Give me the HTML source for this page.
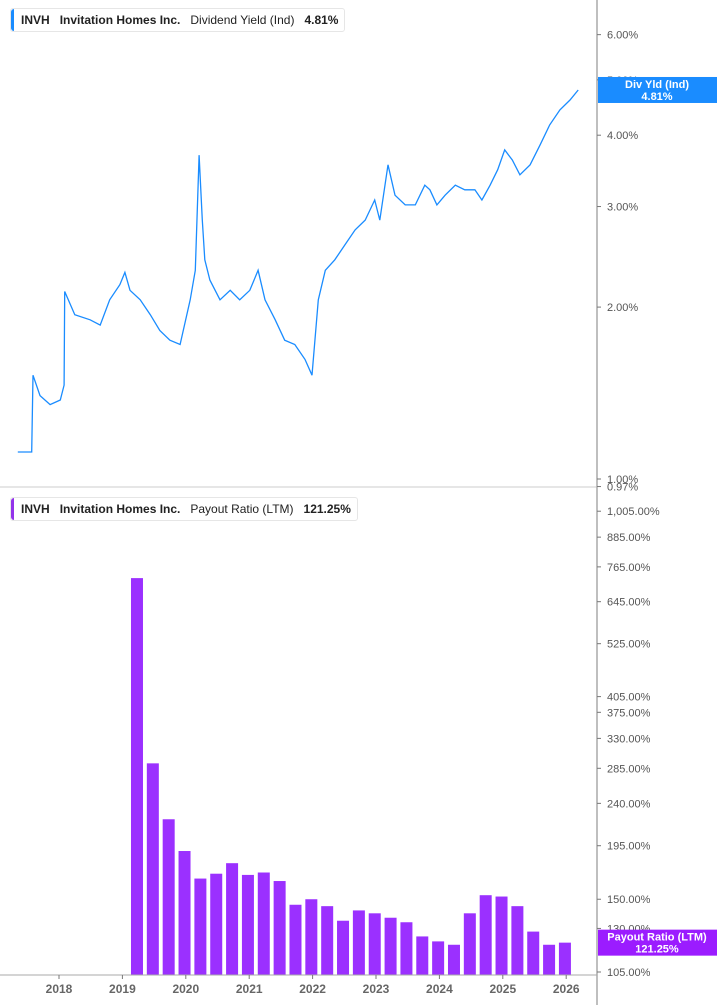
<!DOCTYPE html>
<html><head><meta charset="utf-8"><style>
body{margin:0;width:717px;height:1005px;background:#fff;font-family:"Liberation Sans",sans-serif;overflow:hidden;position:relative}
.leg{position:absolute;left:10px;height:22px;border:1px solid #e6e6e6;border-radius:3px;background:#fff;font-size:12px;color:#222;line-height:22px;padding:0 6px 0 10px;white-space:nowrap}
.leg b{font-weight:bold}
.leg .bar{position:absolute;left:0;top:0;bottom:0;width:3px;border-radius:3px 0 0 3px}
</style></head><body>
<svg id="chart" width="717" height="1005" style="position:absolute;left:0;top:0" font-family="Liberation Sans, sans-serif">
<line x1="0" y1="487" x2="597" y2="487" stroke="#ccc"/>
<line x1="597" y1="0" x2="597" y2="1005" stroke="#aaa" stroke-width="1.5"/>
<g id="gtop"></g><g id="gbot"></g><g id="xax"></g>
</svg>
<div class="leg" style="top:8px"><span class="bar" style="background:#1a8cff"></span><b>INVH</b>&nbsp;&nbsp; <b>Invitation Homes Inc.</b>&nbsp;&nbsp; Dividend Yield (Ind)&nbsp;&nbsp; <b>4.81%</b></div>
<div class="leg" style="top:497px"><span class="bar" style="background:#9333ea"></span><b>INVH</b>&nbsp;&nbsp; <b>Invitation Homes Inc.</b>&nbsp;&nbsp; Payout Ratio (LTM)&nbsp;&nbsp; <b>121.25%</b></div>
<script>
const yieldDates=[17.35,17.57,17.59,17.70,17.86,18.02,18.08,18.09,18.25,18.49,18.65,18.80,18.96,19.04,19.12,19.28,19.44,19.59,19.75,19.91,20.07,20.15,20.21,20.26,20.30,20.38,20.54,20.70,20.85,21.01,21.14,21.25,21.41,21.56,21.72,21.88,21.99,22.09,22.20,22.35,22.51,22.67,22.83,22.98,23.06,23.19,23.30,23.46,23.62,23.77,23.85,23.96,24.09,24.25,24.40,24.56,24.67,24.80,24.92,25.03,25.15,25.27,25.43,25.59,25.74,25.90,26.06,26.19];
const yieldValues=[1.115,1.115,1.52,1.40,1.35,1.375,1.46,2.13,1.94,1.90,1.86,2.06,2.19,2.30,2.14,2.06,1.94,1.82,1.75,1.72,2.06,2.32,3.69,2.84,2.42,2.23,2.06,2.14,2.06,2.14,2.32,2.06,1.90,1.75,1.72,1.62,1.52,2.06,2.32,2.42,2.57,2.73,2.84,3.08,2.84,3.55,3.14,3.02,3.02,3.27,3.21,3.02,3.14,3.27,3.21,3.21,3.08,3.27,3.48,3.77,3.62,3.41,3.55,3.85,4.17,4.43,4.61,4.80];
const topTicks=[6,5,4,3,2,1,0.97];
const payoutValues=[724,292,222,190,166,170,179,169,171,164,146,150,145,135,142,140,137,134,125,122,120,140,153,152,145,128,120,121.25];
const payoutStart=2019.23;
const botTicks=[1005,885,765,645,525,405,375,330,285,240,195,150,130,105];
const yearLabels=[2018,2019,2020,2021,2022,2023,2024,2025,2026];
const NS="http://www.w3.org/2000/svg";
function mk(t,a,p){const e=document.createElementNS(NS,t);for(const k in a)e.setAttribute(k,a[k]);p.appendChild(e);return e;}
const X=d=>59+(d-2018)*63.4;
const Yt=v=>479-Math.log(v)*248;
const Yb=v=>972-Math.log(v/105)*204;
const gTop=document.getElementById('gtop'),gBot=document.getElementById('gbot'),gX=document.getElementById('xax');
let pts=yieldDates.map((d,i)=>X(2000+d).toFixed(1)+','+Yt(yieldValues[i]).toFixed(1)).join(' ');
const line=mk('polyline',{points:pts,fill:'none',stroke:'#1a8cff','stroke-width':1.3},gTop);


topTicks.forEach(v=>{const y=Yt(v);
 const t=mk('text',{x:607,y:y+4,'font-size':11,fill:'#555'},gTop);t.textContent=v.toFixed(2)+'%';
 
 
 mk('line',{x1:597,x2:601,y1:y,y2:y,stroke:'#777'},gTop);});
const cur=yieldValues[yieldValues.length-1];
const lb=mk('rect',{x:598,y:Yt(cur)-13,width:119,height:26,fill:'#1a8cff'},gTop);


let t1=mk('text',{x:657,y:Yt(cur)-2,'font-size':11,'font-weight':'bold',fill:'#fff','text-anchor':'middle'},gTop);t1.textContent='Div Yld (Ind)';
let t2=mk('text',{x:657,y:Yt(cur)+10,'font-size':11,'font-weight':'bold',fill:'#fff','text-anchor':'middle'},gTop);t2.textContent='4.81%';
payoutValues.forEach((v,i)=>{const cx=X(payoutStart+0.25*i);
 const r=mk('rect',{x:cx-6,y:Yb(v),width:12,height:972-Yb(v)+3,fill:'#9b30ff'},gBot);
 
 });
botTicks.forEach(v=>{const y=Yb(v);
 const t=mk('text',{x:607,y:y+4,'font-size':11,fill:'#555'},gBot);t.textContent=v.toLocaleString('en-US')+'.00%';
 
 
 mk('line',{x1:597,x2:601,y1:y,y2:y,stroke:'#777'},gBot);});
const pv=payoutValues[payoutValues.length-1];
const lb2=mk('rect',{x:598,y:Yb(pv)-13,width:119,height:26,fill:'#9b1cff'},gBot);


let t3=mk('text',{x:657,y:Yb(pv)-2,'font-size':11,'font-weight':'bold',fill:'#fff','text-anchor':'middle'},gBot);t3.textContent='Payout Ratio (LTM)';
let t4=mk('text',{x:657,y:Yb(pv)+10,'font-size':11,'font-weight':'bold',fill:'#fff','text-anchor':'middle'},gBot);t4.textContent='121.25%';
mk('line',{x1:0,x2:597,y1:975,y2:975,stroke:'#aaa'},gX);
yearLabels.forEach(yr=>{const x=X(yr);
 mk('line',{x1:x,x2:x,y1:975,y2:979,stroke:'#777'},gX);
 const t=mk('text',{x:x,y:993,'font-size':12,'font-weight':'bold',fill:'#666','text-anchor':'middle'},gX);t.textContent=yr;
 
 });
</script>
</body></html>
